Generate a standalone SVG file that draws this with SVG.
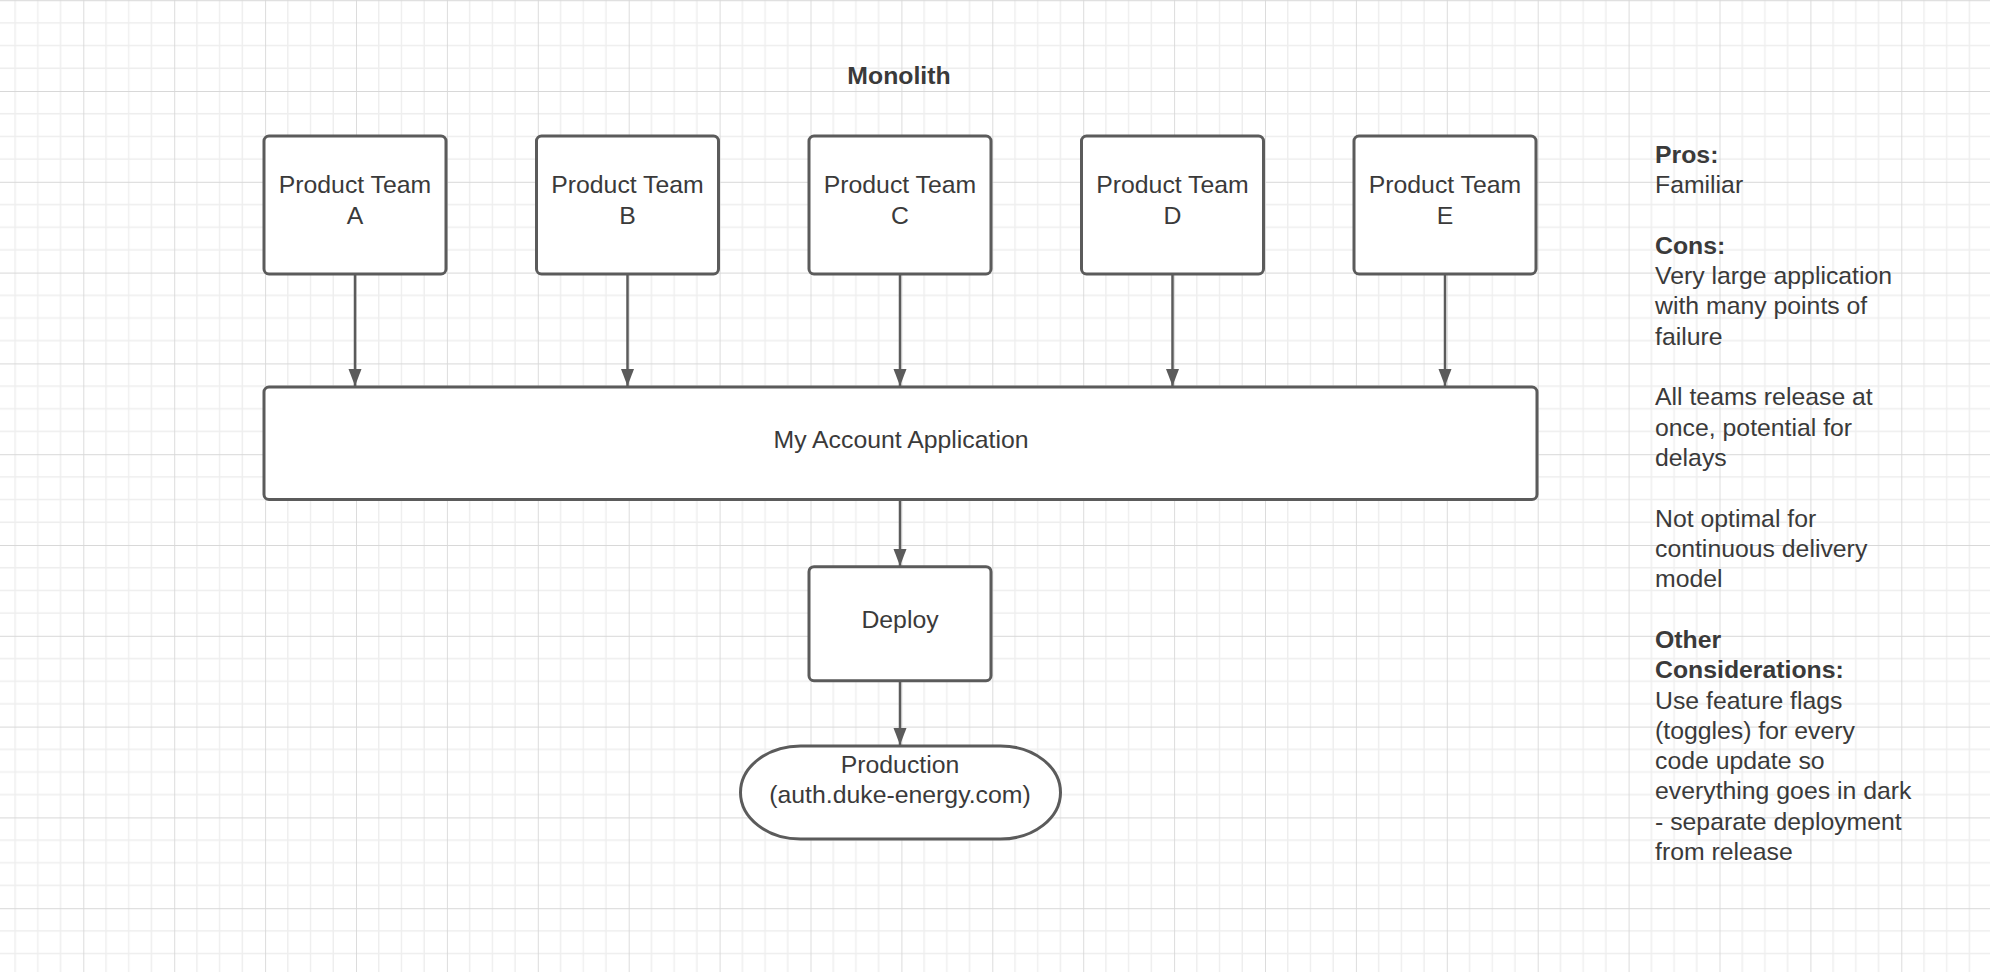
<svg xmlns="http://www.w3.org/2000/svg" width="1990" height="972" viewBox="0 0 1990 972">
<style>
.t{font-family:"Liberation Sans",Arial,sans-serif;font-size:24.8px;fill:#3a3a3a}
.c{text-anchor:middle}
.b{font-weight:bold}
.box{fill:#ffffff;stroke:#5b5b5b;stroke-width:3}
.con{stroke:#5b5b5b;stroke-width:2.5;fill:none}
</style>
<defs>
<pattern id="grid" patternUnits="userSpaceOnUse" x="83.3" y="0.2" width="90.9" height="90.8">
<path d="M22.725 0V90.8M45.45 0V90.8M68.175 0V90.8M0 22.7H90.9M0 45.4H90.9M0 68.1H90.9" stroke="#eeeeee" stroke-width="1.4" fill="none"/>
<path d="M0 0V90.8M0 0H90.9" stroke="#d8d8d8" stroke-width="1.8" fill="none"/>
</pattern>
<marker id="arr" markerUnits="userSpaceOnUse" markerWidth="18" markerHeight="14" refX="17" refY="6.5" orient="auto">
<path d="M0 0L17 6.5L0 13Z" fill="#5b5b5b"/>
</marker>
</defs>
<rect width="1990" height="972" fill="#ffffff"/>
<rect width="1990" height="972" fill="url(#grid)"/>
<text id="title" class="t c b" x="899" y="84.3">Monolith</text>
<g id="connectors">
<line class="con" x1="355" y1="274" x2="355" y2="386" marker-end="url(#arr)"/>
<line class="con" x1="627.5" y1="274" x2="627.5" y2="386" marker-end="url(#arr)"/>
<line class="con" x1="900" y1="274" x2="900" y2="386" marker-end="url(#arr)"/>
<line class="con" x1="1172.5" y1="274" x2="1172.5" y2="386" marker-end="url(#arr)"/>
<line class="con" x1="1445" y1="274" x2="1445" y2="386" marker-end="url(#arr)"/>
<line class="con" x1="900" y1="499.5" x2="900" y2="566" marker-end="url(#arr)"/>
<line class="con" x1="900" y1="681" x2="900" y2="745" marker-end="url(#arr)"/>
</g>
<g id="teamA"><rect class="box" x="264" y="136" width="182" height="138" rx="5"/><text class="t c" x="355" y="193.3">Product Team</text><text class="t c" x="355" y="224">A</text></g>
<g id="teamB"><rect class="box" x="536.5" y="136" width="182" height="138" rx="5"/><text class="t c" x="627.5" y="193.3">Product Team</text><text class="t c" x="627.5" y="224">B</text></g>
<g id="teamC"><rect class="box" x="809" y="136" width="182" height="138" rx="5"/><text class="t c" x="900" y="193.3">Product Team</text><text class="t c" x="900" y="224">C</text></g>
<g id="teamD"><rect class="box" x="1081.5" y="136" width="182" height="138" rx="5"/><text class="t c" x="1172.5" y="193.3">Product Team</text><text class="t c" x="1172.5" y="224">D</text></g>
<g id="teamE"><rect class="box" x="1354" y="136" width="182" height="138" rx="5"/><text class="t c" x="1445" y="193.3">Product Team</text><text class="t c" x="1445" y="224">E</text></g>
<g id="app"><rect class="box" x="264" y="387" width="1273" height="112.5" rx="5"/><text class="t c" x="901" y="448.3">My Account Application</text></g>
<g id="deploy"><rect class="box" x="809" y="566.7" width="182" height="114" rx="5"/><text class="t c" x="900" y="628.3">Deploy</text></g>
<g id="production"><rect class="box" x="740.5" y="746" width="320" height="93" rx="60" ry="46.5"/><text class="t c" x="900" y="772.7">Production</text><text class="t c" x="900" y="802.5">(auth.duke-energy.com)</text></g>
<g id="notes">
<text class="t" x="1655">
<tspan class="b" x="1655" y="162.7">Pros:</tspan>
<tspan x="1655" y="193">Familiar</tspan>
<tspan class="b" x="1655" y="253.7">Cons:</tspan>
<tspan x="1655" y="284">Very large application</tspan>
<tspan x="1655" y="314.3">with many points of</tspan>
<tspan x="1655" y="344.6">failure</tspan>
<tspan x="1655" y="405.3">All teams release at</tspan>
<tspan x="1655" y="435.6">once, potential for</tspan>
<tspan x="1655" y="465.9">delays</tspan>
<tspan x="1655" y="526.5">Not optimal for</tspan>
<tspan x="1655" y="556.9">continuous delivery</tspan>
<tspan x="1655" y="587.2">model</tspan>
<tspan class="b" x="1655" y="647.8">Other</tspan>
<tspan class="b" x="1655" y="678.1">Considerations:</tspan>
<tspan x="1655" y="708.5">Use feature flags</tspan>
<tspan x="1655" y="738.8">(toggles) for every</tspan>
<tspan x="1655" y="769.1">code update so</tspan>
<tspan x="1655" y="799.4">everything goes in dark</tspan>
<tspan x="1655" y="829.7">- separate deployment</tspan>
<tspan x="1655" y="860.1">from release</tspan>
</text>
</g>
</svg>
